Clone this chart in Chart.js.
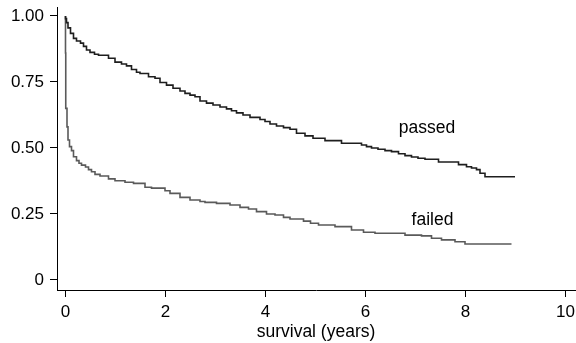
<!DOCTYPE html>
<html>
<head>
<meta charset="utf-8">
<script src="https://cdn.jsdelivr.net/npm/chart.js@4/dist/chart.umd.min.js"></script>
<style>
  html, body { margin: 0; padding: 0; background: #fff; }
  #wrap { width: 576px; height: 343px; }
</style>
</head>
<body>
<div id="wrap"><canvas id="km" width="576" height="343"></canvas></div>
<script>
// Kaplan-Meier estimates
const passedTime = [0, 0.02, 0.05, 0.1, 0.16, 0.22, 0.3, 0.36, 0.42, 0.49, 0.58, 0.66, 0.86, 0.99, 1.12, 1.22, 1.32, 1.42, 1.49, 1.66, 1.79, 1.89, 2.02, 2.15, 2.29, 2.39, 2.49, 2.59, 2.69, 2.82, 2.95, 3.09, 3.22, 3.32, 3.42, 3.55, 3.69, 3.89, 3.99, 4.09, 4.22, 4.36, 4.49, 4.62, 4.79, 4.95, 5.19, 5.52, 5.92, 6.02, 6.12, 6.25, 6.39, 6.52, 6.66, 6.79, 6.92, 7.05, 7.19, 7.46, 7.86, 8.02, 8.12, 8.22, 8.29, 8.39, 8.42, 8.99];
const passedSurv = [1.00, 0.99, 0.975, 0.955, 0.934, 0.915, 0.905, 0.897, 0.885, 0.871, 0.862, 0.855, 0.851, 0.84, 0.825, 0.818, 0.811, 0.797, 0.787, 0.782, 0.77, 0.764, 0.748, 0.738, 0.726, 0.716, 0.707, 0.70, 0.694, 0.678, 0.670, 0.663, 0.655, 0.648, 0.641, 0.633, 0.625, 0.616, 0.608, 0.600, 0.591, 0.583, 0.577, 0.571, 0.556, 0.546, 0.537, 0.528, 0.518, 0.511, 0.505, 0.50, 0.495, 0.49, 0.486, 0.478, 0.471, 0.466, 0.461, 0.457, 0.447, 0.437, 0.429, 0.424, 0.418, 0.404, 0.391, 0.391];

const failedTime = [0, 0.005, 0.03, 0.05, 0.08, 0.12, 0.16, 0.22, 0.27, 0.32, 0.4, 0.46, 0.52, 0.59, 0.69, 0.86, 0.99, 1.19, 1.36, 1.59, 1.72, 1.99, 2.09, 2.29, 2.49, 2.69, 2.79, 3.02, 3.29, 3.49, 3.66, 3.82, 4.02, 4.19, 4.36, 4.49, 4.76, 4.9, 5.06, 5.39, 5.72, 5.96, 6.19, 6.79, 7.12, 7.32, 7.52, 7.79, 7.99, 8.19, 8.92];
const failedSurv = [1.00, 0.86, 0.65, 0.58, 0.53, 0.505, 0.49, 0.467, 0.452, 0.442, 0.435, 0.428, 0.418, 0.41, 0.40, 0.394, 0.383, 0.376, 0.37, 0.366, 0.351, 0.348, 0.338, 0.328, 0.313, 0.303, 0.297, 0.294, 0.29, 0.284, 0.275, 0.269, 0.259, 0.25, 0.246, 0.237, 0.231, 0.223, 0.215, 0.208, 0.202, 0.189, 0.181, 0.177, 0.17, 0.167, 0.158, 0.152, 0.145, 0.136, 0.136];

const xTicks = [0, 2, 4, 6, 8, 10];
const yTicks = [0, 0.25, 0.5, 0.75, 1];

// curve labels, placed in data units
const curveLabels = [
    { text: 'passed', x: 7.23, y: 0.576 },
    { text: 'failed', x: 7.34, y: 0.225 }
];

const FONT = '"Liberation Sans", Arial, Helvetica, sans-serif';

const toPoints = (t, s) => t.map((v, i) => ({ x: v, y: s[i] }));

// draws the "passed" / "failed" labels next to the curves
const curveLabelPlugin = {
    id: 'curveLabels',
    afterDatasetsDraw(chart) {
        const { ctx, scales } = chart;
        ctx.save();
        ctx.font = '17.5px ' + FONT;
        ctx.fillStyle = '#000';
        ctx.textAlign = 'center';
        ctx.textBaseline = 'middle';
        curveLabels.forEach(l => {
            ctx.fillText(l.text, scales.x.getPixelForValue(l.x), scales.y.getPixelForValue(l.y));
        });
        ctx.restore();
    }
};

new Chart(document.getElementById('km'), {
    type: 'line',
    data: {
        datasets: [
            {
                label: 'passed',
                data: toPoints(passedTime, passedSurv),
                borderColor: '#1e1e1e',
                borderWidth: 1.6,
                stepped: 'after',
                pointRadius: 0,
                fill: false
            },
            {
                label: 'failed',
                data: toPoints(failedTime, failedSurv),
                borderColor: '#5a5a5a',
                borderWidth: 1.6,
                stepped: 'after',
                pointRadius: 0,
                fill: false
            }
        ]
    },
    options: {
        responsive: false,
        animation: false,
        layout: { padding: { top: 7, right: 1, left: 0, bottom: 0 } },
        plugins: {
            legend: { display: false },
            tooltip: { enabled: false }
        },
        scales: {
            x: {
                type: 'linear',
                min: -0.17,
                max: 10.19,
                afterBuildTicks: axis => { axis.ticks = xTicks.map(v => ({ value: v })); },
                afterFit: axis => {
                    axis.height = 53;
                    axis.paddingLeft = 0;
                    axis.paddingRight = 0;
                },
                grid: { drawOnChartArea: false, drawTicks: true, tickLength: 7, color: '#000' },
                border: { display: true, color: '#000', width: 1 },
                ticks: {
                    color: '#000',
                    padding: 5,
                    maxRotation: 0,
                    font: { family: FONT, size: 17 }
                },
                title: {
                    display: true,
                    text: 'survival (years)',
                    color: '#000',
                    padding: { top: 0, bottom: 2 },
                    font: { family: FONT, size: 17.5, lineHeight: 1 }
                }
            },
            y: {
                type: 'linear',
                min: -0.038,
                max: 1.034,
                afterBuildTicks: axis => { axis.ticks = yTicks.map(v => ({ value: v })); },
                afterFit: axis => {
                    axis.width = 57;
                    axis.paddingTop = 0;
                    axis.paddingBottom = 0;
                },
                grid: { drawOnChartArea: false, drawTicks: true, tickLength: 7, color: '#000' },
                border: { display: true, color: '#000', width: 1 },
                ticks: {
                    color: '#000',
                    padding: 6,
                    font: { family: FONT, size: 17 },
                    callback: v => (v === 0 ? '0' : v.toFixed(2))
                }
            }
        }
    },
    plugins: [curveLabelPlugin]
});
</script>
</body>
</html>
